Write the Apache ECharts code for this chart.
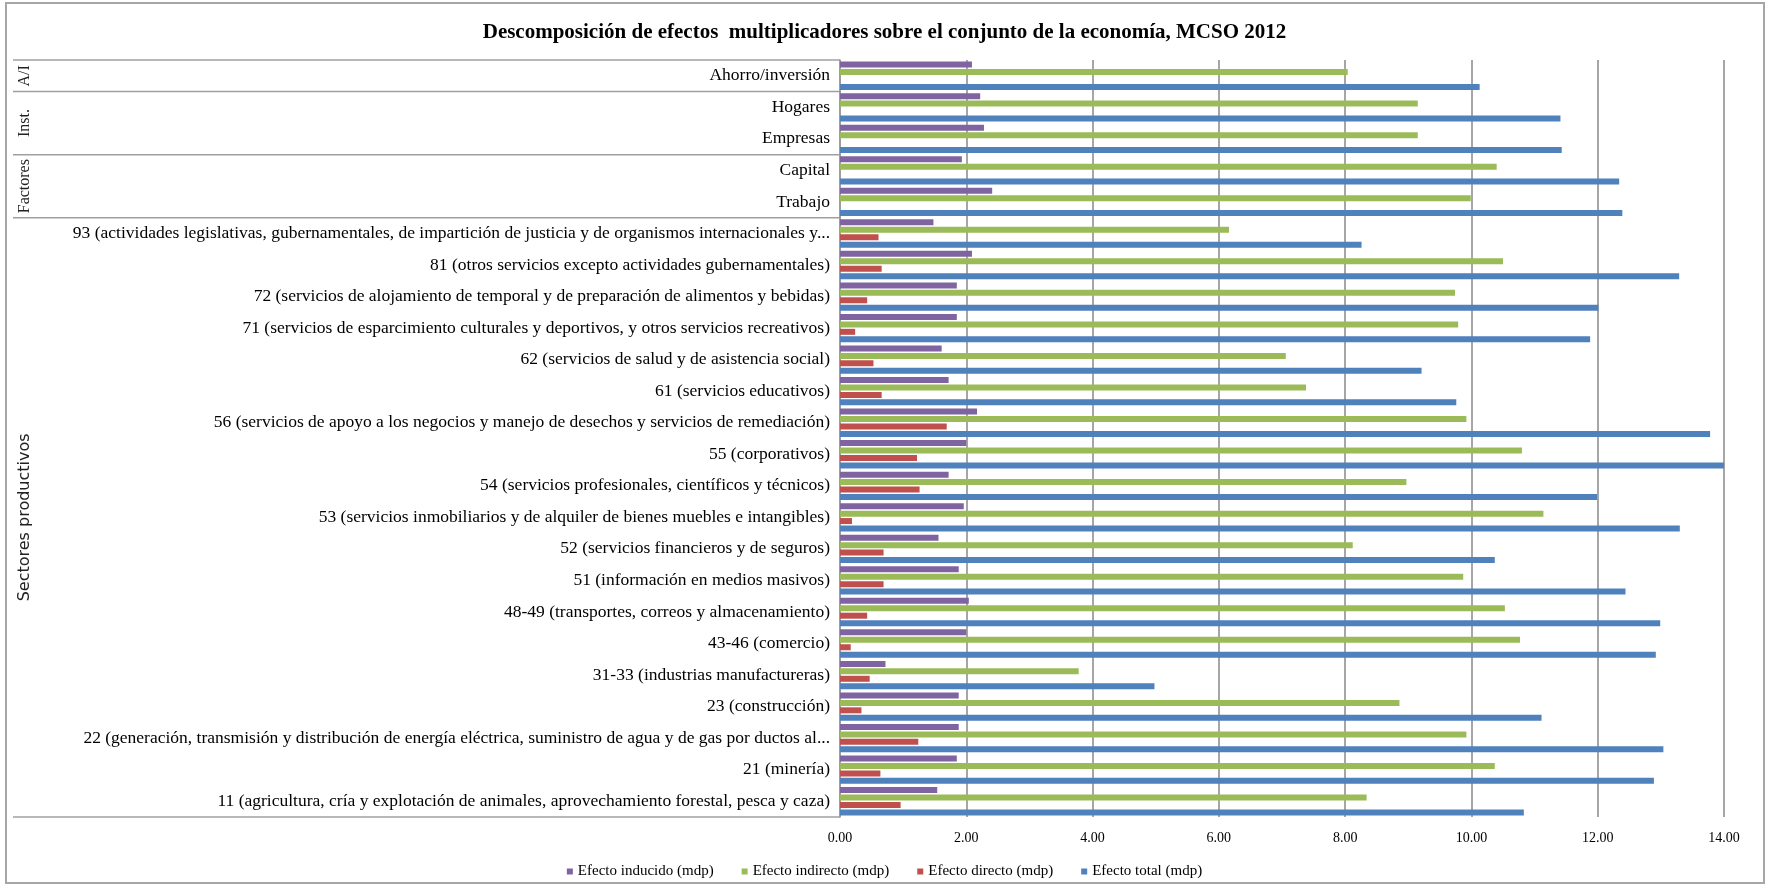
<!DOCTYPE html>
<html><head><meta charset="utf-8">
<script src="https://cdn.jsdelivr.net/npm/echarts@6/dist/echarts.min.js"></script>
<style>html,body{margin:0;padding:0;background:#fff}#c{width:1769px;height:887px}</style>
</head><body><div id="c"></div>
<script>
const titleText = 'Descomposición de efectos  multiplicadores sobre el conjunto de la economía, MCSO 2012';
const categories = [
  'Ahorro/inversión',
  'Hogares',
  'Empresas',
  'Capital',
  'Trabajo',
  '93 (actividades legislativas, gubernamentales, de impartición de justicia y de organismos internacionales y...',
  '81 (otros servicios excepto actividades gubernamentales)',
  '72 (servicios de alojamiento de temporal y de preparación de alimentos y bebidas)',
  '71 (servicios de esparcimiento culturales y deportivos, y otros servicios recreativos)',
  '62 (servicios de salud y de asistencia social)',
  '61 (servicios educativos)',
  '56 (servicios de apoyo a los negocios y manejo de desechos y servicios de remediación)',
  '55 (corporativos)',
  '54 (servicios profesionales, científicos y técnicos)',
  '53 (servicios inmobiliarios y de alquiler de bienes muebles e intangibles)',
  '52 (servicios financieros y de seguros)',
  '51 (información en medios masivos)',
  '48-49 (transportes, correos y almacenamiento)',
  '43-46 (comercio)',
  '31-33 (industrias manufactureras)',
  '23 (construcción)',
  '22 (generación, transmisión y distribución de energía eléctrica, suministro de agua y de gas por ductos al...',
  '21 (minería)',
  '11 (agricultura, cría y explotación de animales, aprovechamiento forestal, pesca y caza)'
];
const groupNames = ['A/I', 'Inst.', 'Factores', 'Sectores productivos'];
const groupStart = [0, 1, 3, 5];
const groupEnd = [0, 2, 4, 23];
const seriesNames = ['Efecto inducido (mdp)', 'Efecto indirecto (mdp)', 'Efecto directo (mdp)', 'Efecto total (mdp)'];
const inducido  = [2.09, 2.22, 2.28, 1.93, 2.41, 1.48, 2.09, 1.85, 1.85, 1.61, 1.72, 2.17, 2.00, 1.72, 1.96, 1.56, 1.88, 2.04, 2.00, 0.72, 1.88, 1.88, 1.85, 1.54];
const indirecto = [8.04, 9.15, 9.15, 10.40, 9.99, 6.16, 10.50, 9.74, 9.79, 7.06, 7.38, 9.92, 10.80, 8.97, 11.14, 8.12, 9.87, 10.53, 10.77, 3.78, 8.86, 9.92, 10.37, 8.34];
const directo   = [0, 0, 0, 0, 0, 0.61, 0.66, 0.43, 0.24, 0.53, 0.66, 1.69, 1.22, 1.26, 0.19, 0.69, 0.69, 0.43, 0.17, 0.47, 0.34, 1.24, 0.64, 0.96];
const total     = [10.13, 11.41, 11.43, 12.34, 12.39, 8.26, 13.29, 12.01, 11.88, 9.21, 9.76, 13.78, 14.03, 11.99, 13.30, 10.37, 12.44, 12.99, 12.92, 4.98, 11.11, 13.04, 12.89, 10.83];
const xMin = 0, xMax = 14, xStep = 2;
const colors = ['#8064A2', '#9BBB59', '#C0504D', '#4F81BD'];
const serif = 'Liberation Serif';

const chart = echarts.init(document.getElementById('c'));
const dataSets = [inducido, indirecto, directo, total];
const option = {
  animation: false,
  backgroundColor: '#fff',
  title: {
    text: titleText, left: 'center', top: 17,
    textStyle: {fontFamily: serif, fontWeight: 'bold', fontSize: 21, color: '#000'}
  },
  legend: {
    data: seriesNames, left: 'center', top: 859, itemWidth: 6, itemHeight: 6, itemGap: 28,
    icon: 'rect',
    textStyle: {fontFamily: serif, fontSize: 15, color: '#000'}
  },
  grid: {left: 840, right: 45, top: 60, bottom: 70, containLabel: false},
  xAxis: {
    type: 'value', min: xMin, max: xMax, interval: xStep,
    axisLine: {show: false}, axisTick: {show: false},
    axisLabel: {formatter: v => v.toFixed(2), fontFamily: serif, fontSize: 14, color: '#000', margin: 14},
    splitLine: {show: true, lineStyle: {color: '#888', width: 1.5}}
  },
  yAxis: {
    type: 'category', data: categories, inverse: true,
    axisLine: {show: true, lineStyle: {color: '#9a9a9a', width: 1.5}},
    axisTick: {show: false},
    axisLabel: {interval: 0, margin: 10, fontFamily: serif, fontSize: 17.5, color: '#000'}
  },
  series: seriesNames.map((n, i) => ({
    name: n, type: 'bar', data: dataSets[i], barWidth: 6, barGap: '24%',
    itemStyle: {color: colors[i]}
  }))
};
chart.setOption(option);

const y0 = chart.convertToPixel({yAxisIndex: 0}, 0);
const y1 = chart.convertToPixel({yAxisIndex: 0}, 1);
const bandH = y1 - y0;
const topOf = i => chart.convertToPixel({yAxisIndex: 0}, i) - bandH / 2;
const axisX = chart.convertToPixel({xAxisIndex: 0}, 0);
const graphics = [{
  type: 'rect', shape: {x: 6, y: 3, width: 1758, height: 880},
  style: {fill: 'none', stroke: '#a6a6a6', lineWidth: 2}, silent: true
}];
const bounds = groupStart.map(s => topOf(s)).concat([topOf(groupEnd[groupEnd.length - 1]) + bandH]);
bounds.forEach(yb => graphics.push({
  type: 'line', shape: {x1: 13, y1: yb, x2: axisX, y2: yb},
  style: {stroke: '#a0a0a0', lineWidth: 1.5}, silent: true
}));
groupNames.forEach((g, k) => {
  const yc = (topOf(groupStart[k]) + topOf(groupEnd[k]) + bandH) / 2;
  const isSans = k === 3;
  graphics.push({
    type: 'text', x: 25, y: yc, rotation: Math.PI / 2,
    style: {text: g, fontFamily: isSans ? 'DejaVu Sans' : serif, fontSize: 16,
      fill: '#222', align: 'center', verticalAlign: 'middle'},
    silent: true
  });
});
chart.setOption({graphic: graphics});
</script></body></html>
